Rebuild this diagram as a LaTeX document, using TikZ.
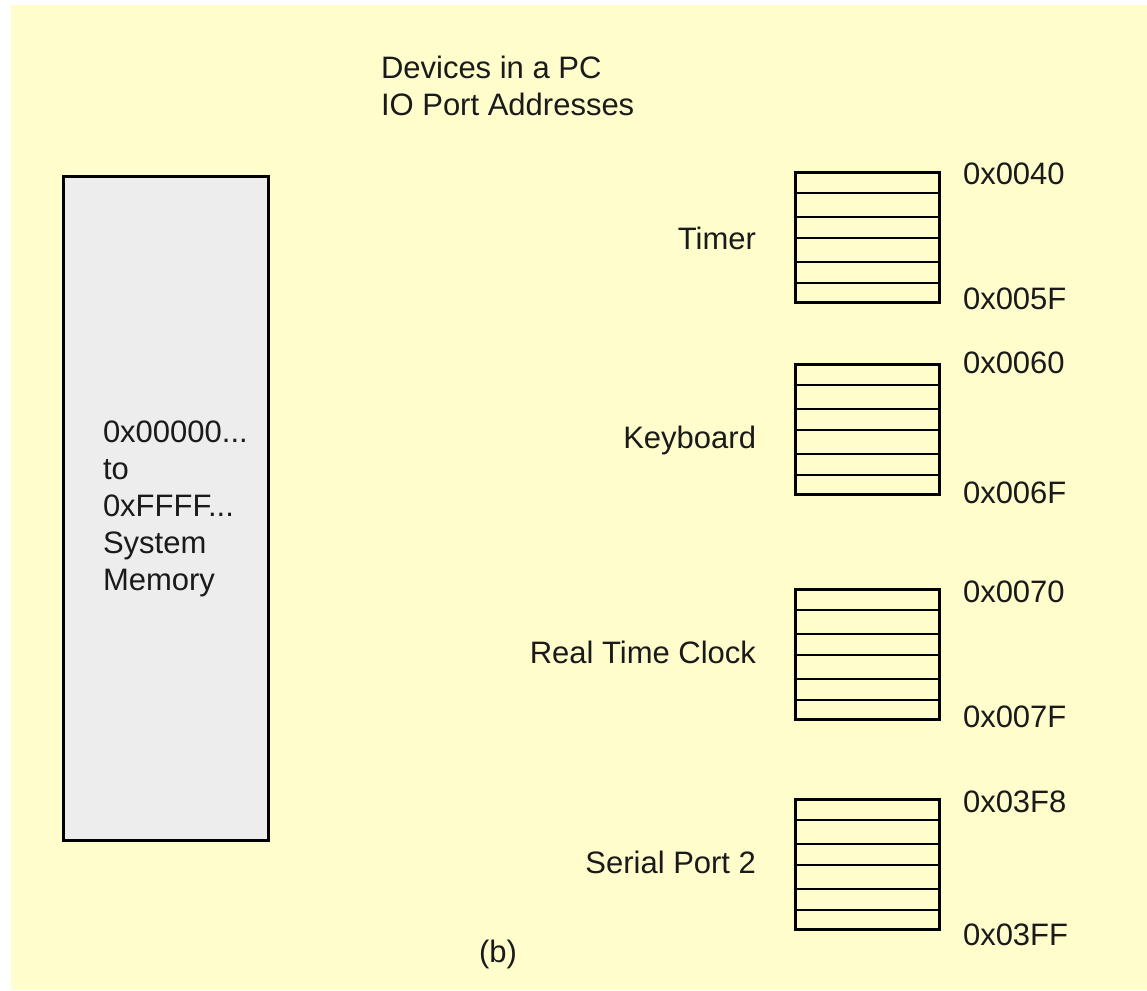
\documentclass[tikz,border=0pt]{standalone}
\usepackage{fontspec}
\setmainfont{Liberation Sans}
\definecolor{bgyellow}{HTML}{FFFDCC}
\definecolor{memgray}{HTML}{EDEDED}
\definecolor{txt}{HTML}{1A1A1A}
\begin{document}
\begin{tikzpicture}[x=1pt,y=-1pt,
  lab/.style={inner sep=0pt,outer sep=0pt,text=txt,font=\fontsize{31}{37}\selectfont},
  regbox/.style={draw=black,line width=3pt,fill=bgyellow,minimum width=144pt,minimum height=130pt,inner sep=0pt,outer sep=0pt,anchor=north west},
  regline/.style={draw=black,line width=2.4pt},
  membox/.style={draw=black,line width=3pt,fill=memgray,minimum width=205pt,minimum height=664pt,inner sep=0pt,outer sep=0pt,anchor=north west}]
\useasboundingbox (0,0) rectangle (1147,990);
\fill[white] (0,0) rectangle (1147,990);
\fill[bgyellow] (11,5) rectangle (1147,990);
% title
\node[lab,anchor=base west] (title1) at (381,78) {Devices in a PC};
\node[lab,anchor=base west] (title2) at (381,115) {IO Port Addresses};
% system memory
\node[membox] (mem) at (63,176) {};
\node[lab,anchor=north west,align=left] (memtext) at (103,421) {0x00000...\\to\\0xFFFF...\\System\\Memory};
% register blocks
\newcommand{\regblock}[2]{%
  \node[regbox] (#1) at (795,#2) {};
  \foreach \o in {21,45,66,90,111}
    \draw[regline] ([yshift=-\o pt]#1.north west) -- ([yshift=-\o pt]#1.north east);
}
\regblock{timer}{172}
\regblock{keyb}{364}
\regblock{rtc}{589}
\regblock{serial}{799}
% device labels
\node[lab,anchor=base east] (timerlbl) at (756,249) {Timer};
\node[lab,anchor=base east] (keyblbl) at (756,448) {Keyboard};
\node[lab,anchor=base east] (rtclbl) at (756,663) {Real Time Clock};
\node[lab,anchor=base east] (seriallbl) at (756,873) {Serial Port 2};
% addresses
\node[lab,anchor=base west] (a1) at (963,184) {0x0040};
\node[lab,anchor=base west] (a2) at (963,309) {0x005F};
\node[lab,anchor=base west] (a3) at (963,373) {0x0060};
\node[lab,anchor=base west] (a4) at (963,503) {0x006F};
\node[lab,anchor=base west] (a5) at (963,602) {0x0070};
\node[lab,anchor=base west] (a6) at (963,727) {0x007F};
\node[lab,anchor=base west] (a7) at (963,812) {0x03F8};
\node[lab,anchor=base west] (a8) at (963,945) {0x03FF};
% caption
\node[lab,anchor=base] (cap) at (498,962) {(b)};
\end{tikzpicture}
\end{document}
